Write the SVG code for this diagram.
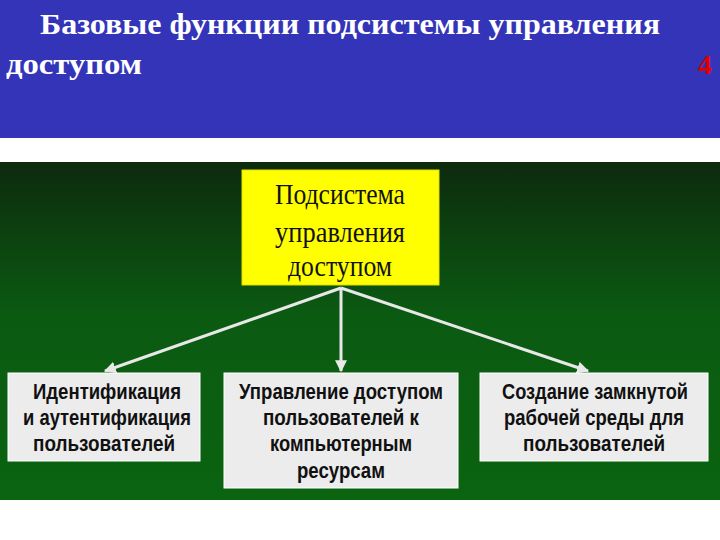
<svg xmlns="http://www.w3.org/2000/svg" width="720" height="540" viewBox="0 0 720 540">
<defs>
<linearGradient id="g" x1="0" y1="0" x2="0" y2="1"><stop offset="0" stop-color="#0d2a0d"/><stop offset="0.45" stop-color="#0b5a12"/><stop offset="1" stop-color="#0a6410"/></linearGradient>
<marker id="a" viewBox="0 0 10 10" refX="9" refY="5" markerWidth="4" markerHeight="4" orient="auto"><path d="M0,0 L10,5 L0,10 z" fill="#e8e8e8"/></marker>
<style>
.t{font-family:"Liberation Serif",serif;font-weight:bold;font-size:30px;fill:#fff}
.y{font-family:"Liberation Serif",serif;font-size:30px;fill:#111;text-anchor:middle}
.b{font-family:"Liberation Sans",sans-serif;font-weight:bold;font-size:22px;fill:#111;text-anchor:middle}
.bx{fill:#ececec;stroke:#fff;stroke-width:1}
</style>
</defs>
<rect width="720" height="540" fill="#fff"/>
<rect x="0" y="0" width="720" height="138" fill="#3434b8"/>
<text class="t" x="40" y="34" textLength="620" lengthAdjust="spacingAndGlyphs">Базовые функции подсистемы управления</text>
<text class="t" x="6" y="74" textLength="136" lengthAdjust="spacingAndGlyphs">доступом</text>
<text x="712" y="74" font-family="Liberation Serif,serif" font-weight="bold" font-size="28" fill="#e00000" text-anchor="end">4</text>
<rect x="0" y="162" width="720" height="338" fill="url(#g)"/>
<g id="connectors" stroke="#e8e8e8" stroke-width="3" fill="none" marker-end="url(#a)">
<line x1="341" y1="288" x2="105" y2="371"/>
<line x1="341" y1="288" x2="341" y2="371"/>
<line x1="341" y1="288" x2="588" y2="371"/>
</g>
<g id="root"><rect x="242" y="170" width="197" height="115" fill="#ffff00" stroke="#e0e000"/>
<text class="y" x="340" y="204" textLength="130" lengthAdjust="spacingAndGlyphs">Подсистема</text><text class="y" x="340" y="242" textLength="130" lengthAdjust="spacingAndGlyphs">управления</text><text class="y" x="340" y="276" textLength="104" lengthAdjust="spacingAndGlyphs">доступом</text></g>
<g id="n1"><rect class="bx" x="8" y="373" width="192" height="88"/>
<text class="b" x="107" y="399" textLength="148" lengthAdjust="spacingAndGlyphs">Идентификация</text><text class="b" x="107" y="425" textLength="168" lengthAdjust="spacingAndGlyphs">и аутентификация</text><text class="b" x="104" y="451" textLength="142" lengthAdjust="spacingAndGlyphs">пользователей</text></g>
<g id="n2"><rect class="bx" x="224" y="373" width="234" height="115"/>
<text class="b" x="341" y="399" textLength="204" lengthAdjust="spacingAndGlyphs">Управление доступом</text><text class="b" x="341" y="425" textLength="156" lengthAdjust="spacingAndGlyphs">пользователей к</text><text class="b" x="341" y="451" textLength="142" lengthAdjust="spacingAndGlyphs">компьютерным</text><text class="b" x="341" y="478" textLength="88" lengthAdjust="spacingAndGlyphs">ресурсам</text></g>
<g id="n3"><rect class="bx" x="480" y="373" width="228" height="88"/>
<text class="b" x="595" y="399" textLength="186" lengthAdjust="spacingAndGlyphs">Создание замкнутой</text><text class="b" x="594" y="425" textLength="180" lengthAdjust="spacingAndGlyphs">рабочей среды для</text><text class="b" x="594" y="451" textLength="142" lengthAdjust="spacingAndGlyphs">пользователей</text></g>
</svg>
